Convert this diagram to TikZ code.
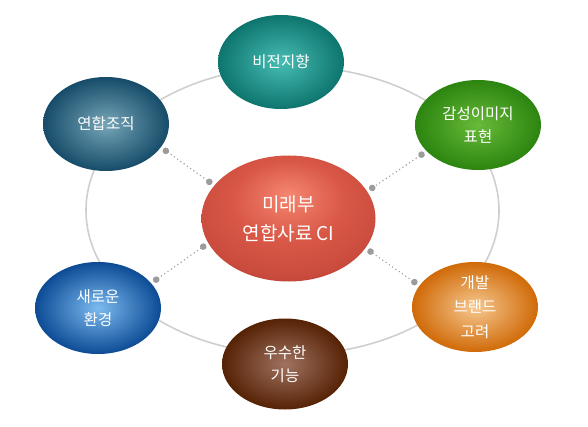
\documentclass[tikz,border=0pt]{standalone}
\usepackage{fontspec}
\usepackage{xcolor}
\usetikzlibrary{shapes, arrows.meta, calc, positioning}
\newfontfamily\krfont{Noto Sans CJK KR}
\definecolor{ringgray}{HTML}{CFCFCF}
\definecolor{linkgray}{HTML}{9C9C9C}
\definecolor{teallite}{HTML}{46BDB4}
\definecolor{tealdark}{HTML}{0E756D}
\definecolor{slatelite}{HTML}{76A6B8}
\definecolor{slatedark}{HTML}{164C69}
\definecolor{greenlite}{HTML}{68BA38}
\definecolor{greendark}{HTML}{2C8510}
\definecolor{bluelite}{HTML}{7BBAF0}
\definecolor{bluedark}{HTML}{0D4B95}
\definecolor{brownlite}{HTML}{A07260}
\definecolor{browndark}{HTML}{562205}
\definecolor{orangelite}{HTML}{F6C890}
\definecolor{orangedark}{HTML}{D06A08}
\definecolor{redlite}{HTML}{F4866F}
\definecolor{redmid}{HTML}{D95746}
\definecolor{reddark}{HTML}{A8332B}
\pgfdeclareradialshading{redglow}{\pgfpoint{0bp}{10bp}}{color(0bp)=(redlite); color(16bp)=(redmid); color(27bp)=(redmid!70!reddark); color(36bp)=(reddark); color(50bp)=(reddark)}
\tikzset{bubble/.style={ellipse, inner sep=0pt, outer sep=0pt, minimum width=126pt, minimum height=92pt, text=white, align=center, font=\krfont\fontsize{15.5}{23.5}\selectfont}}
\tikzset{tealvertex/.style={bubble, inner color=teallite, outer color=tealdark}}
\tikzset{slatevertex/.style={bubble, inner color=slatelite, outer color=slatedark}}
\tikzset{greenvertex/.style={bubble, inner color=greenlite, outer color=greendark}}
\tikzset{bluevertex/.style={bubble, inner color=bluelite, outer color=bluedark}}
\tikzset{brownvertex/.style={bubble, inner color=brownlite, outer color=browndark}}
\tikzset{orangevertex/.style={bubble, inner color=orangelite, outer color=orangedark}}
\tikzset{centervertex/.style={bubble, shading=redglow, minimum width=174pt, minimum height=126pt, font=\krfont\fontsize{19}{29}\selectfont}}
\tikzset{ring/.style={draw=ringgray, line width=1.6pt}}
\tikzset{link/.style={draw=linkgray, line width=1.6pt, dash pattern=on 0pt off 4pt, line cap=round, {Circle[length=6.5pt]}-{Circle[length=6.5pt]}, shorten <=3pt, shorten >=3pt}}

\begin{document}
\begin{tikzpicture}[x=1pt, y=-1pt]
        \useasboundingbox (0, 0) rectangle (588, 427);
        \begin{scope}
            \draw [ring] (292.5, 210.5) ellipse [x radius=206.5, y radius=144];

            \node[centervertex] (Ncenter) at (288.5, 218.5) {미래부\\연합사료 CI};

            \node[tealvertex, minimum height=94pt] (Nvision) at (281, 62) {비전지향};
            \node[slatevertex, minimum height=94pt] (Norg) at (106, 124) {연합조직};
            \node[greenvertex, minimum height=90pt] (Nemo) at (478, 125) {감성이미지\\표현};
            \node[bluevertex] (Nnew) at (98, 308) {새로운\\환경};
            \node[brownvertex, minimum height=91pt] (Nskill) at (285, 364) {우수한\\기능};
            \node[orangevertex, minimum height=90pt, font=\krfont\fontsize{15.5}{24.5}\selectfont] (Nbrand) at (475, 307) {개발\\브랜드\\고려};

            \draw [link] (Norg.-23) -- (Ncenter.156);
            \draw [link] (Nemo.207) -- (Ncenter.19);
            \draw [link] (Nnew.25) -- (Ncenter.197);
            \draw [link] (Nbrand.159) -- (Ncenter.-21);
        \end{scope}
    \end{tikzpicture}
\end{document}
